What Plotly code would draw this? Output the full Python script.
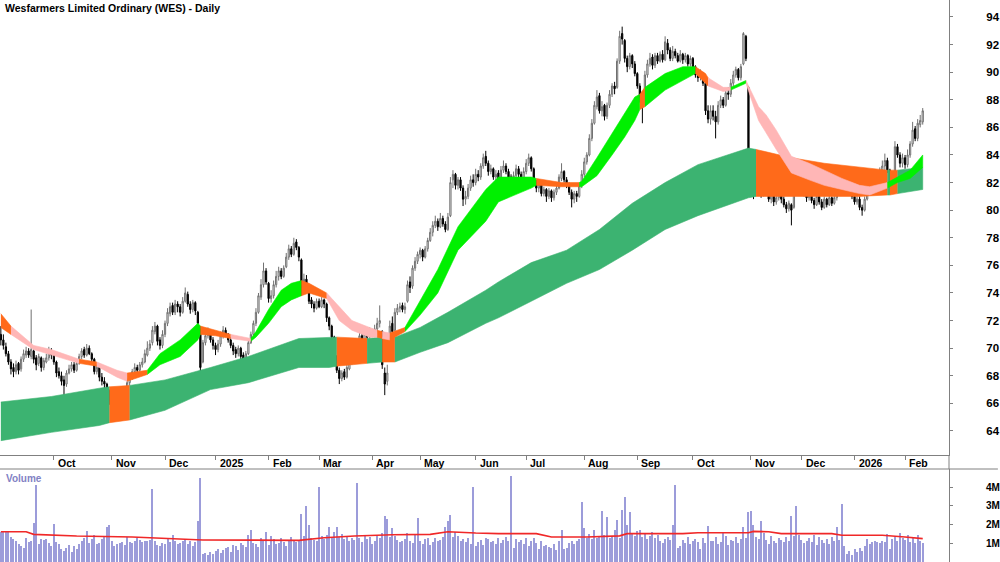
import pandas as pd
import plotly.graph_objects as go

# ---------------- data ----------------
holidays = ['2024-12-25', '2024-12-26', '2025-01-01', '2025-01-27', '2025-04-18', '2025-04-21',
            '2025-04-25', '2025-06-09', '2025-12-25', '2025-12-26', '2026-01-01', '2026-01-26']
dates = [d.strftime('%Y-%m-%d') for d in pd.bdate_range('2024-09-02', '2026-02-11')
         if d.strftime('%Y-%m-%d') not in holidays]

open_ = [
    71.0, 70.6, 70.1, 69.6, 69.0, 68.6, 68.3, 68.9, 68.5, 69.2,
    69.5, 69.8, 69.4, 69.8, 69.3, 68.9, 69.3, 68.6, 69.0, 69.3,
    69.8, 69.5, 69.0, 68.3, 68.0, 67.7, 67.4, 68.2, 68.5, 68.8,
    68.4, 68.9, 69.4, 69.9, 69.5, 70.0, 69.6, 69.2, 68.3, 68.6,
    67.9, 67.6, 67.4, 66.9, 66.2, 65.5, 65.8, 65.6, 66.0, 66.4,
    66.9, 67.5, 67.9, 68.3, 68.6, 68.4, 68.8, 69.0, 69.5, 70.0,
    70.4, 71.2, 71.6, 70.6, 70.2, 71.0, 71.8, 72.5, 73.1, 72.6,
    73.2, 73.0, 72.6, 73.4, 73.9, 73.2, 72.8, 73.3, 72.6, 71.4,
    69.0, 70.4, 70.9, 71.1, 70.6, 70.2, 69.9, 70.3, 70.9, 71.3,
    71.0, 70.6, 70.2, 69.9, 69.6, 70.0, 69.5, 69.2, 69.6, 70.4,
    71.0, 71.8, 72.6, 73.7, 74.6, 75.6, 74.7, 73.6, 73.8, 74.6,
    75.2, 75.6, 75.2, 75.9, 76.6, 77.2, 76.8, 77.7, 77.3, 76.4,
    74.4, 75.0, 74.5, 73.5, 73.2, 72.9, 73.4, 73.0, 73.5, 73.2,
    72.2, 71.6, 70.8, 69.4, 68.4, 67.8, 68.3, 67.9, 68.5, 69.0,
    69.4, 69.8, 70.4, 70.9, 70.6, 71.0, 70.8, 71.2, 70.9, 71.4,
    71.8, 71.2, 68.2, 67.6, 69.5, 71.8, 71.3, 72.6, 72.9, 73.1,
    72.8, 73.4, 74.8, 74.5, 75.8, 76.3, 76.8, 77.1, 76.6, 77.2,
    77.8, 78.4, 78.9, 79.2, 78.8, 79.4, 79.0, 78.6, 79.6, 82.2,
    82.6, 81.8, 82.2, 81.6, 80.8, 81.0, 81.6, 82.2, 82.0, 82.6,
    82.4, 83.2, 83.9, 83.4, 82.8, 83.0, 82.4, 82.7, 82.2, 82.9,
    83.2, 82.8, 82.4, 82.0, 82.5, 83.0, 82.6, 82.2, 82.8, 83.4,
    83.8, 83.0, 82.1, 81.6, 81.9, 81.2, 81.5, 81.0, 81.4, 80.9,
    81.3, 81.6, 82.3, 82.8, 82.2, 81.8, 81.3, 80.8, 81.2, 81.0,
    81.8, 82.6, 83.5, 84.0, 85.2, 86.3, 87.5, 88.3, 87.2, 87.6,
    86.8, 87.6, 88.4, 89.0, 88.9, 90.8, 92.8, 92.3, 91.0, 90.4,
    91.2, 90.6, 89.9, 89.0, 88.4, 87.8, 89.8, 90.6, 91.1, 90.5,
    91.2, 90.8, 91.3, 90.9, 92.1, 91.6, 91.0, 91.5, 91.2, 90.8,
    91.3, 90.9, 91.2, 90.6, 91.0, 90.4, 89.8, 89.6, 89.9, 89.2,
    87.2, 86.6, 87.2, 86.8, 86.4, 87.6, 88.0, 87.6, 88.5, 88.4,
    89.2, 89.8, 90.2, 89.6, 90.6, 92.6, 88.9, 82.8, 82.2, 81.6,
    82.4, 81.8, 81.2, 82.0, 81.4, 80.8, 81.3, 80.6, 80.9, 81.4,
    80.8, 80.4, 80.1, 80.4, 80.2, 81.6, 82.2, 81.4, 81.8, 81.2,
    80.9, 81.2, 80.7, 80.4, 81.0, 80.6, 80.2, 80.8, 80.4, 80.9,
    80.5, 80.9, 81.3, 81.8, 82.0, 81.6, 81.9, 81.4, 81.0, 80.6,
    80.8, 80.2, 80.0, 80.8, 81.4, 81.9, 82.3, 82.0, 82.6, 82.9,
    83.2, 83.6, 82.9, 81.6, 82.4, 84.6, 84.0, 83.4, 83.8, 83.3,
    84.0, 84.8, 85.9, 85.2, 86.2, 86.4,
]
high = [
    71.6, 71.0, 70.4, 69.8, 69.2, 68.9, 69.1, 69.0, 69.4, 69.9,
    70.1, 70.0, 72.8, 69.9, 69.5, 69.6, 69.4, 69.3, 69.6, 70.1,
    70.0, 69.7, 69.1, 68.6, 68.3, 68.0, 68.4, 68.8, 69.0, 69.0,
    69.1, 69.6, 70.0, 70.1, 70.3, 70.2, 69.7, 69.3, 68.8, 68.7,
    68.2, 67.9, 67.5, 67.0, 66.4, 66.0, 66.0, 66.3, 66.8, 67.2,
    67.8, 68.2, 68.5, 68.9, 68.8, 69.0, 69.3, 69.9, 70.5, 70.6,
    71.6, 71.9, 71.7, 70.8, 71.3, 72.0, 72.9, 73.3, 73.3, 73.5,
    73.4, 73.2, 73.7, 74.4, 74.1, 73.4, 73.5, 73.4, 72.7, 71.6,
    70.6, 71.2, 71.5, 71.3, 70.8, 70.4, 70.6, 71.2, 71.6, 71.5,
    71.1, 70.8, 70.4, 70.1, 70.2, 70.1, 69.7, 69.8, 70.6, 71.2,
    72.0, 72.9, 74.0, 75.0, 76.2, 75.8, 74.8, 74.2, 74.9, 75.6,
    75.9, 75.8, 76.0, 76.9, 77.5, 77.4, 78.0, 77.9, 77.4, 76.5,
    75.4, 75.3, 74.6, 73.7, 73.4, 73.6, 73.6, 73.7, 73.6, 73.3,
    72.3, 71.7, 70.9, 69.5, 68.6, 68.4, 68.5, 68.8, 69.3, 69.6,
    70.1, 70.6, 71.1, 71.1, 71.3, 71.2, 71.5, 71.4, 71.7, 72.2,
    73.1, 71.3, 68.6, 68.8, 72.0, 72.3, 72.9, 73.2, 73.3, 73.3,
    73.3, 74.9, 75.2, 76.0, 76.6, 77.0, 77.3, 77.2, 77.4, 78.0,
    78.7, 79.2, 79.6, 79.4, 79.8, 79.6, 79.2, 79.8, 82.4, 82.9,
    82.7, 82.4, 82.4, 81.8, 81.4, 81.9, 82.5, 82.6, 83.0, 82.9,
    83.4, 84.1, 84.3, 83.6, 83.3, 83.1, 82.9, 82.9, 83.2, 83.6,
    83.4, 83.0, 82.6, 82.8, 83.3, 83.2, 82.8, 83.1, 83.7, 84.1,
    83.9, 83.1, 82.2, 82.1, 82.0, 81.7, 81.6, 81.6, 81.5, 81.5,
    81.8, 82.6, 83.4, 82.9, 82.4, 82.0, 81.5, 81.4, 81.4, 82.0,
    82.9, 83.8, 84.2, 85.5, 86.6, 87.9, 88.7, 88.5, 87.9, 87.7,
    87.8, 88.7, 89.2, 89.3, 91.0, 93.0, 93.3, 92.4, 91.2, 91.4,
    91.3, 90.8, 90.0, 89.2, 88.6, 90.1, 90.9, 91.4, 91.3, 91.4,
    91.4, 91.5, 91.6, 92.6, 92.4, 91.8, 91.9, 91.7, 91.4, 91.6,
    91.4, 91.4, 91.3, 91.2, 91.1, 90.5, 90.0, 90.2, 90.0, 89.4,
    87.6, 87.6, 87.6, 87.2, 87.9, 88.3, 88.2, 88.8, 88.9, 89.5,
    90.1, 90.4, 90.3, 90.6, 92.9, 92.7, 89.0, 83.4, 82.6, 82.8,
    82.6, 82.0, 82.3, 82.1, 81.6, 81.5, 81.4, 81.2, 81.7, 81.5,
    81.0, 80.6, 80.7, 80.5, 82.0, 82.7, 82.4, 82.1, 82.0, 81.4,
    81.5, 81.3, 80.9, 81.2, 81.1, 80.8, 81.0, 80.9, 81.1, 81.0,
    81.2, 81.6, 82.0, 82.2, 82.1, 82.1, 82.0, 81.6, 81.1, 81.0,
    81.0, 80.4, 81.0, 81.6, 82.1, 82.5, 82.6, 82.8, 83.1, 83.6,
    84.1, 83.8, 83.0, 82.6, 85.0, 84.8, 84.2, 84.1, 84.0, 84.4,
    85.0, 86.4, 86.1, 86.6, 86.9, 87.4,
]
low = [
    70.2, 69.9, 69.4, 68.8, 68.1, 67.9, 68.1, 68.1, 68.3, 69.0,
    69.3, 69.3, 69.2, 68.9, 68.4, 68.7, 68.3, 68.4, 68.9, 69.1,
    69.2, 68.8, 67.9, 67.8, 67.3, 66.1, 67.2, 68.1, 68.3, 68.2,
    68.3, 68.8, 69.2, 69.3, 69.4, 69.5, 69.0, 68.1, 68.1, 67.6,
    67.3, 67.1, 66.5, 65.9, 65.2, 65.3, 65.1, 65.4, 65.8, 66.3,
    66.8, 67.3, 67.7, 68.2, 68.2, 68.3, 68.6, 68.9, 69.4, 69.8,
    70.2, 71.0, 70.2, 69.9, 70.0, 70.8, 71.6, 72.3, 72.4, 72.4,
    72.6, 72.3, 72.5, 73.3, 73.0, 72.5, 72.6, 72.4, 71.5, 68.3,
    68.9, 70.2, 70.7, 70.4, 69.9, 69.5, 69.7, 70.1, 70.7, 70.8,
    70.4, 70.0, 69.5, 69.3, 69.4, 69.1, 68.9, 69.0, 69.5, 70.3,
    70.9, 71.6, 72.5, 73.5, 74.4, 74.6, 73.3, 73.3, 73.6, 74.4,
    74.9, 75.0, 75.1, 75.8, 76.4, 76.6, 76.7, 77.1, 76.3, 73.8,
    74.2, 74.4, 73.2, 72.9, 72.6, 72.8, 72.9, 72.9, 72.9, 71.9,
    71.3, 70.6, 69.9, 68.2, 67.4, 67.6, 67.7, 67.8, 68.4, 68.8,
    69.2, 69.6, 70.2, 70.4, 70.5, 70.6, 70.7, 70.8, 70.8, 71.2,
    71.5, 68.5, 66.6, 67.3, 69.4, 70.9, 71.2, 72.4, 72.6, 72.6,
    72.5, 73.3, 74.0, 74.3, 75.6, 76.1, 76.5, 76.3, 76.5, 77.0,
    77.7, 78.1, 78.7, 78.5, 78.7, 78.8, 78.4, 78.5, 79.5, 81.6,
    81.5, 81.5, 81.4, 80.3, 80.4, 80.8, 81.4, 81.7, 81.8, 82.1,
    82.2, 83.0, 83.2, 82.5, 82.6, 82.2, 82.1, 81.9, 82.0, 82.7,
    82.6, 82.2, 81.7, 81.9, 82.4, 82.4, 81.9, 82.1, 82.6, 83.2,
    82.8, 81.9, 81.3, 81.3, 81.0, 81.0, 80.6, 80.8, 80.6, 80.7,
    81.1, 81.5, 82.1, 82.0, 81.6, 81.1, 80.2, 80.5, 80.6, 80.9,
    81.6, 82.4, 83.3, 83.9, 85.0, 86.2, 87.3, 87.0, 86.8, 86.5,
    86.6, 87.4, 88.2, 88.4, 88.8, 90.6, 92.0, 90.7, 90.0, 90.2,
    90.3, 89.7, 88.8, 87.8, 86.3, 87.6, 89.6, 90.4, 90.2, 90.3,
    90.6, 90.7, 90.7, 90.8, 91.3, 90.8, 90.8, 91.0, 90.7, 90.7,
    90.6, 90.7, 90.4, 90.4, 90.2, 89.6, 89.3, 89.4, 89.0, 86.9,
    86.3, 86.2, 86.5, 85.2, 86.2, 87.4, 87.4, 87.5, 88.0, 88.2,
    89.0, 89.6, 89.4, 89.4, 90.5, 90.8, 82.4, 81.6, 80.8, 81.2,
    81.4, 80.9, 81.0, 81.2, 80.6, 80.5, 80.3, 80.4, 80.7, 80.5,
    80.2, 79.8, 79.9, 78.9, 80.1, 81.4, 81.2, 81.1, 81.0, 80.6,
    80.7, 80.5, 80.1, 80.3, 80.4, 80.0, 80.1, 80.2, 80.3, 80.3,
    80.4, 80.7, 81.1, 81.6, 81.4, 81.4, 81.2, 80.8, 80.4, 80.4,
    80.0, 79.6, 79.9, 80.7, 81.2, 81.7, 81.8, 81.9, 82.4, 82.7,
    82.9, 82.7, 81.2, 81.4, 82.3, 83.8, 83.1, 83.1, 83.0, 83.1,
    83.8, 84.6, 85.0, 85.0, 86.0, 86.2,
]
close = [
    70.6, 70.2, 69.6, 69.0, 68.5, 68.3, 68.8, 68.4, 69.2, 69.6,
    69.8, 69.5, 69.9, 69.2, 68.8, 69.4, 68.6, 69.1, 69.3, 69.8,
    69.5, 69.0, 68.2, 68.0, 67.6, 67.3, 68.2, 68.5, 68.8, 68.4,
    68.9, 69.4, 69.8, 69.5, 70.0, 69.6, 69.2, 68.3, 68.6, 67.9,
    67.6, 67.4, 66.8, 66.2, 65.6, 65.8, 65.5, 66.0, 66.5, 66.9,
    67.5, 67.9, 68.3, 68.6, 68.4, 68.8, 69.0, 69.6, 70.0, 70.3,
    71.3, 71.6, 70.5, 70.2, 71.0, 71.8, 72.6, 73.0, 72.6, 73.2,
    73.0, 72.6, 73.4, 74.0, 73.2, 72.8, 73.3, 72.7, 71.8, 68.6,
    70.4, 70.9, 71.2, 70.6, 70.2, 69.9, 70.3, 70.9, 71.3, 71.0,
    70.6, 70.2, 69.8, 69.6, 70.0, 69.4, 69.2, 69.6, 70.4, 71.0,
    71.8, 72.6, 73.8, 74.6, 75.6, 74.8, 73.6, 73.8, 74.6, 75.2,
    75.6, 75.2, 75.8, 76.6, 77.2, 76.8, 77.6, 77.3, 76.6, 74.4,
    75.0, 74.6, 73.4, 73.2, 72.9, 73.4, 73.0, 73.5, 73.2, 72.2,
    71.6, 70.8, 70.2, 68.4, 67.8, 68.2, 67.9, 68.6, 69.0, 69.4,
    69.8, 70.4, 70.9, 70.6, 71.0, 70.8, 71.2, 70.9, 71.4, 71.8,
    72.0, 68.8, 67.4, 68.2, 71.6, 71.2, 72.6, 72.9, 73.0, 72.8,
    73.0, 74.6, 74.4, 75.8, 76.3, 76.8, 77.1, 76.6, 77.2, 77.8,
    78.4, 78.9, 79.2, 78.8, 79.4, 79.0, 78.6, 79.5, 82.0, 82.6,
    81.8, 82.2, 81.6, 80.8, 81.0, 81.6, 82.2, 82.0, 82.6, 82.4,
    83.2, 83.8, 83.4, 82.8, 83.0, 82.4, 82.6, 82.2, 82.9, 83.2,
    82.8, 82.4, 82.0, 82.5, 83.0, 82.6, 82.2, 82.8, 83.4, 83.8,
    83.0, 82.1, 81.6, 81.9, 81.2, 81.5, 81.0, 81.4, 80.9, 81.3,
    81.6, 82.4, 82.8, 82.2, 81.8, 81.3, 80.8, 81.2, 81.0, 81.8,
    82.6, 83.5, 84.0, 85.2, 86.3, 87.6, 88.2, 87.2, 87.5, 86.8,
    87.6, 88.4, 89.0, 88.8, 90.8, 92.6, 92.4, 91.0, 90.4, 91.2,
    90.6, 89.9, 89.0, 88.2, 87.6, 89.8, 90.6, 91.0, 90.5, 91.2,
    90.8, 91.3, 90.9, 92.2, 91.6, 91.0, 91.5, 91.2, 90.8, 91.3,
    90.9, 91.2, 90.6, 91.0, 90.4, 89.8, 89.6, 89.9, 89.2, 87.2,
    86.6, 87.2, 86.8, 86.4, 87.6, 88.0, 87.6, 88.5, 88.4, 89.2,
    89.8, 90.2, 89.6, 90.4, 92.8, 91.0, 82.6, 82.0, 81.5, 82.4,
    81.8, 81.2, 82.0, 81.4, 80.8, 81.3, 80.6, 80.9, 81.4, 80.8,
    80.4, 80.1, 80.5, 80.0, 81.6, 82.2, 81.4, 81.8, 81.2, 80.9,
    81.2, 80.7, 80.4, 81.0, 80.6, 80.2, 80.8, 80.4, 80.9, 80.5,
    80.9, 81.3, 81.8, 82.0, 81.6, 81.9, 81.4, 81.0, 80.6, 80.8,
    80.2, 80.0, 80.8, 81.4, 81.9, 82.3, 82.0, 82.6, 82.9, 83.2,
    83.6, 82.9, 81.8, 82.4, 84.6, 84.0, 83.4, 83.8, 83.3, 84.0,
    84.8, 85.8, 85.2, 86.3, 86.5, 87.2,
]
volume_m = [
    1.62, 1.58, 1.65, 1.60, 1.35, 1.25, 1.10, 0.95, 0.85, 0.75,
    1.30, 1.05, 1.10, 2.07, 4.15, 0.95, 1.25, 1.20, 1.25, 1.00,
    0.85, 2.05, 1.05, 0.95, 0.70, 0.60, 0.75, 0.90, 0.55, 0.85,
    0.70, 0.95, 1.10, 1.30, 1.66, 1.00, 1.25, 1.45, 0.95, 1.00,
    1.25, 1.35, 1.90, 2.00, 1.10, 0.85, 0.95, 1.00, 1.05, 0.90,
    1.35, 1.05, 1.00, 1.10, 1.30, 1.20, 1.05, 1.15, 1.10, 1.20,
    3.90, 1.15, 0.90, 0.85, 1.00, 0.95, 1.25, 1.05, 1.45, 1.10,
    0.95, 1.00, 1.15, 1.20, 0.95, 1.10, 0.85, 1.05, 2.20, 4.50,
    0.45, 0.50, 0.40, 0.55, 0.45, 0.60, 0.70, 0.50, 0.65, 0.75,
    0.80, 0.55, 0.90, 0.85, 0.65, 1.00, 0.90, 0.80, 1.45, 1.70,
    1.00, 0.95, 0.80, 1.30, 1.20, 1.60, 0.90, 1.40, 1.25, 0.95,
    1.00, 1.30, 1.05, 0.85, 1.10, 1.35, 1.15, 1.05, 1.20, 2.55,
    1.40, 3.00, 2.00, 1.30, 1.20, 1.10, 4.00, 1.40, 1.25, 1.45,
    1.90, 1.30, 1.60, 1.85, 1.35, 1.50, 1.25, 1.40, 1.15, 1.30,
    1.20, 4.25, 1.30, 1.05, 1.45, 1.25, 1.35, 0.95, 1.10, 1.40,
    1.30, 1.55, 2.45, 2.30, 1.35, 1.80, 1.40, 1.20, 1.05, 1.15,
    1.25, 1.55, 1.15, 1.00, 1.45, 2.35, 1.10, 0.95, 1.25, 1.30,
    0.90, 1.05, 1.30, 1.15, 1.20, 1.35, 1.90, 2.20, 2.50, 1.35,
    1.60, 1.40, 1.15, 1.25, 1.05, 1.30, 0.95, 4.00, 0.85, 1.05,
    1.20, 0.90, 1.30, 1.25, 1.05, 1.15, 0.95, 1.30, 1.00, 1.20,
    1.35, 1.15, 4.60, 0.75, 1.25, 1.05, 1.20, 0.95, 1.30, 0.85,
    1.10, 1.30, 1.00, 0.70, 1.15, 0.85, 0.90, 0.80, 0.75, 0.95,
    0.65, 1.10, 1.70, 0.70, 0.75, 1.00, 1.10, 0.95, 1.15, 1.25,
    3.20, 1.80, 1.30, 1.50, 1.25, 1.70, 1.30, 1.35, 2.75, 1.45,
    2.40, 1.30, 1.35, 1.70, 2.25, 1.30, 2.80, 3.50, 2.00, 2.70,
    1.55, 1.40, 1.65, 1.70, 1.35, 1.55, 1.25, 1.40, 1.60, 1.30,
    1.45, 1.15, 1.00, 1.25, 1.35, 1.20, 1.96, 4.10, 0.75, 0.85,
    1.20, 1.00, 1.35, 0.95, 1.10, 1.25, 1.05, 0.70, 1.30, 1.00,
    1.93, 1.15, 1.10, 1.35, 0.95, 1.05, 1.55, 1.40, 0.90, 1.20,
    1.10, 1.35, 1.00, 1.25, 1.90, 1.30, 2.70, 2.75, 2.00, 1.35,
    1.25, 2.20, 1.55, 1.20, 0.95, 1.40, 1.10, 1.00, 1.30, 1.20,
    1.05, 1.35, 1.15, 2.45, 1.40, 3.00, 1.45, 1.20, 1.00, 1.15,
    1.30, 1.05, 1.45, 0.90, 1.35, 1.20, 1.00, 1.25, 0.95, 1.35,
    1.10, 1.85, 1.20, 3.10, 0.85, 0.45, 0.60, 0.40, 0.70, 0.55,
    0.75, 0.60, 0.85, 1.25, 0.95, 1.05, 1.10, 1.05, 1.00, 1.15,
    1.05, 1.50, 0.70, 1.25, 1.35, 1.10, 1.55, 1.30, 1.20, 1.45,
    1.05, 1.30, 1.00, 1.45, 1.10, 1.00,
]

# volume moving-average line (read at knot days, millions)
vma_days = [0, 10, 13, 30, 52, 70, 80, 118, 128, 140, 155, 170, 177, 188, 197, 212, 218,
            232, 245, 248, 270, 276, 296, 298, 304, 309, 329, 333, 349, 358, 365]
vma_vals = [1.62, 1.62, 1.48, 1.39, 1.34, 1.24, 1.18, 1.16, 1.30, 1.39, 1.46, 1.48, 1.62, 1.55,
            1.52, 1.52, 1.34, 1.34, 1.40, 1.52, 1.52, 1.57, 1.57, 1.64, 1.62, 1.52, 1.52, 1.43,
            1.43, 1.34, 1.25]

# long-term ribbon (knot days, upper and lower edge) and state per interval
long_days = [0, 20, 39, 43, 51, 65, 83, 98, 118, 130, 133, 145, 151, 156, 166, 177, 192, 197,
             210, 224, 237, 250, 263, 276, 296, 299, 313, 326, 340, 351, 352, 355, 365]
long_top = [66.1, 66.5, 67.1, 67.2, 67.3, 67.7, 68.6, 69.4, 70.7, 70.8, 70.8, 70.7, 70.8, 70.8,
            71.5, 72.6, 74.2, 74.8, 76.2, 77.1, 78.6, 80.5, 82.0, 83.3, 84.5, 84.4, 83.8, 83.4,
            83.1, 82.9, 82.9, 82.9, 83.1]
long_bot = [63.3, 63.9, 64.4, 64.6, 64.8, 65.5, 67.0, 67.5, 68.6, 68.6, 68.7, 68.9, 69.0, 69.0,
            69.7, 70.4, 71.8, 72.2, 73.4, 74.7, 75.7, 77.1, 78.6, 79.6, 80.9, 81.0, 81.0, 81.0,
            81.0, 81.1, 81.1, 81.2, 81.5]
long_state = ['g', 'g', 'g', 'o', 'g', 'g', 'g', 'g', 'g', 'g', 'o', 'g', 'o', 'g', 'g', 'g',
              'g', 'g', 'g', 'g', 'g', 'g', 'g', 'g', 'g', 'o', 'o', 'o', 'o', 'g', 'o', 'g']

# short-term ribbon
short_days = [0, 4, 13, 20, 31, 38, 46, 50, 58, 63, 71, 78, 79, 85, 91, 99, 101, 106, 111, 115,
              119, 122, 129, 134, 139, 146, 149, 151, 154, 160, 166, 173, 181, 192, 197, 210,
              212, 222, 229, 230, 236, 242, 247, 251, 253, 255, 263, 270, 275, 279, 280, 286,
              289, 295, 300, 303, 307, 313, 320, 326, 333, 340, 344, 351, 355, 360, 365]
short_top = [72.5, 71.6, 70.2, 69.9, 69.2, 69.0, 68.4, 68.2, 68.4, 69.6, 70.6, 71.8, 71.6, 71.3,
             71.0, 70.7, 71.2, 72.8, 74.2, 74.7, 74.9, 74.7, 74.0, 73.0, 72.0, 71.5, 71.3, 71.2,
             71.1, 71.5, 73.4, 75.7, 78.8, 81.5, 82.4, 82.4, 82.3, 82.0, 82.0, 82.1, 83.8, 85.6,
             87.0, 88.2, 88.4, 88.9, 89.9, 90.4, 90.4, 89.9, 89.6, 88.9, 88.9, 89.4, 87.5, 86.9,
             85.8, 83.9, 83.4, 82.9, 82.3, 81.8, 81.7, 82.0, 82.4, 82.9, 84.0]
short_bot = [71.5, 71.0, 69.9, 69.5, 68.9, 68.7, 67.9, 67.6, 68.1, 68.8, 69.4, 70.6, 71.0, 70.9,
             70.7, 70.5, 70.8, 71.8, 73.0, 73.5, 73.8, 74.0, 73.6, 72.0, 71.3, 70.8, 70.8, 70.7,
             70.6, 71.2, 72.4, 74.0, 77.1, 79.2, 80.6, 81.6, 81.8, 81.7, 81.7, 81.7, 82.5, 84.0,
             85.3, 86.5, 87.3, 87.5, 88.7, 89.4, 89.9, 89.2, 89.0, 88.6, 88.7, 89.2, 86.5, 85.6,
             84.4, 82.7, 82.2, 81.8, 81.5, 81.2, 81.1, 81.6, 82.0, 82.3, 83.1]
short_state = ['o', 'p', 'p', 'p', 'o', 'p', 'p', 'o', 'g', 'g', 'g', 'g', 'o', 'o', 'p', 'g',
               'g', 'g', 'g', 'g', 'o', 'o', 'p', 'p', 'p', 'p', 'o', 'p', 'o', 'g', 'g', 'g',
               'g', 'g', 'g', 'g', 'o', 'o', 'g', 'g', 'g', 'g', 'g', 'g', 'o', 'g', 'g', 'g',
               'o', 'o', 'p', 'p', 'g', 'p', 'p', 'p', 'p', 'p', 'p', 'p', 'p', 'p', 'p', 'g',
               'g', 'g']

tick_dates = ['2024-10-01', '2024-11-01', '2024-12-02', '2025-01-02', '2025-02-03', '2025-03-03',
              '2025-04-01', '2025-05-01', '2025-06-02', '2025-07-01', '2025-08-01', '2025-09-01',
              '2025-10-01', '2025-11-03', '2025-12-01', '2026-01-02', '2026-02-02']
tick_labels = ['Oct', 'Nov', 'Dec', '2025', 'Feb', 'Mar', 'Apr', 'May', 'Jun', 'Jul', 'Aug',
               'Sep', 'Oct', 'Nov', 'Dec', '2026', 'Feb']
price_ticks = [64, 66, 68, 70, 72, 74, 76, 78, 80, 82, 84, 86, 88, 90, 92, 94]

# ---------------- styles ----------------
LONG_COLORS = {'g': '#3CB371', 'o': '#FF6A1A'}
SHORT_COLORS = {'g': '#00F000', 'o': '#FF6A1A', 'p': '#FFB6B6'}
FONT = 'Liberation Sans, Arial, sans-serif'

fig = go.Figure()


def add_ribbon(days, top, bot, states, colors):
    i = 0
    n = len(states)
    while i < n:
        j = i
        while j + 1 < n and states[j + 1] == states[i]:
            j += 1
        idx = list(range(i, j + 2))
        xs = [dates[days[k]] for k in idx] + [dates[days[k]] for k in reversed(idx)]
        ys = [top[k] for k in idx] + [bot[k] for k in reversed(idx)]
        fig.add_trace(go.Scatter(x=xs, y=ys, fill='toself', fillcolor=colors[states[i]],
                                 mode='lines', line=dict(width=0.6, color=colors[states[i]]),
                                 hoverinfo='skip', showlegend=False, xaxis='x', yaxis='y'))
        i = j + 1


add_ribbon(long_days, long_top, long_bot, long_state, LONG_COLORS)
add_ribbon(short_days, short_top, short_bot, short_state, SHORT_COLORS)

fig.add_trace(go.Candlestick(
    x=dates, open=open_, high=high, low=low, close=close,
    increasing=dict(line=dict(color='#707070', width=1), fillcolor='white'),
    decreasing=dict(line=dict(color='black', width=1), fillcolor='black'),
    whiskerwidth=0, showlegend=False, xaxis='x', yaxis='y'))

fig.add_trace(go.Bar(x=dates, y=volume_m, marker=dict(color='#9C9CDA', line=dict(width=0)),
                     width=0.42, showlegend=False, xaxis='x2', yaxis='y2'))
fig.add_trace(go.Scatter(x=[dates[d] for d in vma_days], y=vma_vals, mode='lines',
                         line=dict(color='#F02828', width=1.6), showlegend=False,
                         xaxis='x2', yaxis='y2'))

W, H = 1000, 562
PLOT_W = 951
price_dom = [(H - 455) / H, 1.0]
vol_dom = [0.0, (H - 469) / H]
xrange = [-0.336, 375.4]

fig.update_layout(
    width=W, height=H,
    margin=dict(l=0, r=W - PLOT_W, t=0, b=0),
    paper_bgcolor='white', plot_bgcolor='white',
    font=dict(family=FONT, color='black'),
    bargap=0,
    xaxis=dict(domain=[0, 1], type='category', categoryorder='array', categoryarray=dates,
               range=xrange, anchor='y', showline=True, linecolor='#808080', linewidth=1,
               ticks='outside', ticklen=4, tickcolor='#808080', tickvals=tick_dates,
               ticktext=[''] * len(tick_dates), showgrid=False, zeroline=False,
               rangeslider=dict(visible=False), fixedrange=True),
    yaxis=dict(domain=price_dom, side='right', range=[62.26, 95.23], tickvals=price_ticks,
               ticks='outside', ticklen=3, tickcolor='#808080', showline=True,
               linecolor='#808080', linewidth=1, showgrid=False, zeroline=False, anchor='x',
               tickfont=dict(family=FONT, size=11.5, color='black', weight='bold'),
               ticklabelstandoff=31),
    xaxis2=dict(domain=[0, 1], type='category', categoryorder='array', categoryarray=dates,
                range=xrange, matches='x', anchor='y2', showticklabels=False, showline=False,
                showgrid=False, zeroline=False, ticks=''),
    yaxis2=dict(domain=vol_dom, side='right', range=[0.0, 4.98], tickvals=[1, 2, 3, 4],
                ticktext=['1M', '2M', '3M', '4M'], ticks='outside', ticklen=3,
                tickcolor='#808080', showline=True, linecolor='#808080', linewidth=1,
                showgrid=False, zeroline=False, anchor='x2',
                tickfont=dict(family=FONT, size=10, color='black', weight='bold'),
                ticklabelstandoff=31),
)

annotations = [
    dict(text='Wesfarmers Limited Ordinary (WES) - Daily', xref='paper', yref='paper',
         x=3 / PLOT_W, y=1 - 8 / H, xanchor='left', yanchor='middle', showarrow=False,
         font=dict(family=FONT, size=10.5, color='black', weight='bold')),
    dict(text='Volume', xref='paper', yref='paper', x=4 / PLOT_W, y=(H - 478) / H,
         xanchor='left', yanchor='middle', showarrow=False,
         font=dict(family=FONT, size=10, color='#8282C4', weight='bold')),
]
for d, lab in zip(tick_dates, tick_labels):
    annotations.append(dict(text=lab, x=d, xref='x', y=(H - 463) / H, yref='paper',
                            xanchor='left', yanchor='middle', xshift=2, showarrow=False,
                            font=dict(family=FONT, size=10.5, color='black', weight='bold')))
fig.update_layout(annotations=annotations)

fig.update_layout(shapes=[
    dict(type='line', xref='paper', yref='paper', x0=0, x1=W / PLOT_W,
         y0=(H - 469) / H, y1=(H - 469) / H, line=dict(color='#808080', width=1)),
    dict(type='line', xref='paper', yref='paper', x0=1, x1=1,
         y0=(H - 469) / H, y1=(H - 455) / H, line=dict(color='#808080', width=1)),
])

fig.write_html('out.html')
